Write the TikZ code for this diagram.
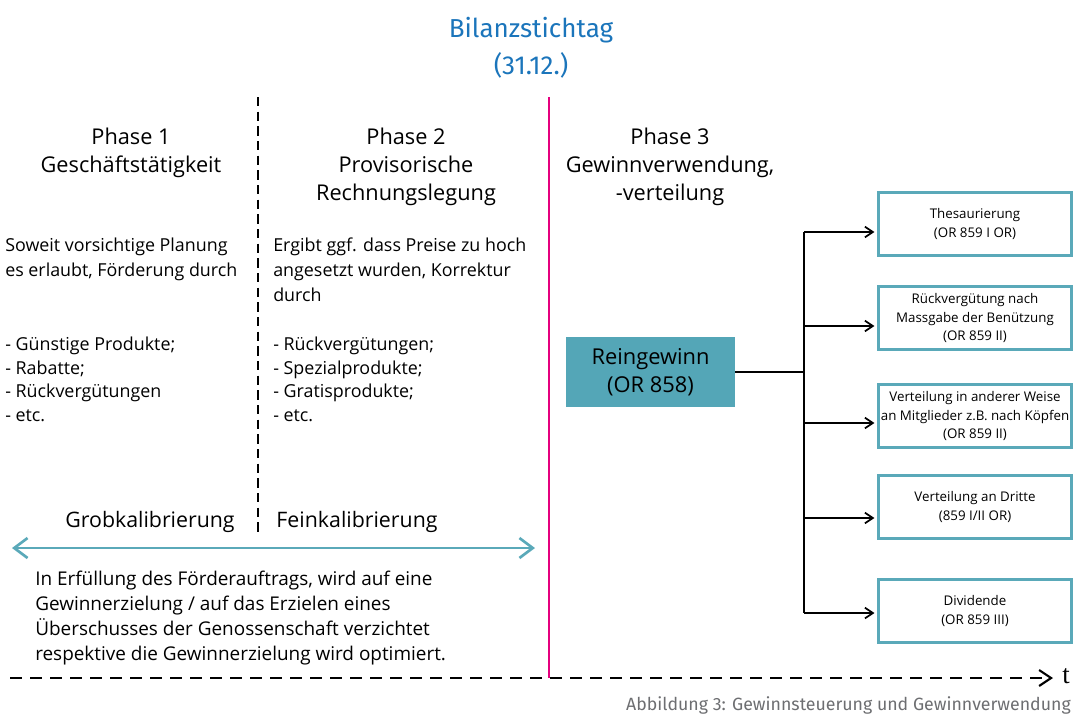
\documentclass[tikz,border=0pt]{standalone}
\usepackage{fontspec}
\setmainfont{Open Sans}
\newfontfamily\headfont{Fira Sans}
\newfontfamily\serifT{Liberation Serif}
\usetikzlibrary{arrows.meta}
\definecolor{titleblue}{HTML}{1B75BB}
\definecolor{magline}{HTML}{E5007E}
\definecolor{tealc}{HTML}{5AA9B9}
\definecolor{tealfill}{HTML}{54A6B7}
\definecolor{capgray}{HTML}{6D6E71}
\begin{document}
\begin{tikzpicture}[x=0.75pt,y=-0.75pt,
  phase/.style={anchor=north, inner sep=0pt, align=center, font=\fontsize{16.3}{21}\selectfont},
  body/.style={anchor=north west, inner sep=0pt, align=left, font=\fontsize{13.4}{18.75}\selectfont},
  blist/.style={anchor=north west, inner sep=0pt, align=left, font=\fontsize{13.4}{17.6}\selectfont},
  foot/.style={anchor=north west, inner sep=0pt, align=left, font=\fontsize{14.2}{18.75}\selectfont},
  calib/.style={anchor=center, inner sep=0pt, font=\fontsize{16}{18}\selectfont},
  resbox/.style={draw=tealc, line width=1.8pt, minimum width=145pt, minimum height=47.5pt,
    inner sep=0.5pt, align=center, font=\fontsize{10}{14}\selectfont},
  branch/.style={line width=1.5pt, -{Straight Barb[length=6pt,width=8pt,line width=1.3pt]}},
]
\path[use as bounding box] (0,0) rectangle (1077,715);

% title
\node[font=\headfont\fontsize{19.5}{27.75}\selectfont, text=titleblue, align=center, anchor=north, inner sep=0pt]
  (title) at (531,17) {Bilanzstichtag\\(31.12.)};

% separators
\draw[magline, line width=2pt] (549,97) coordinate (mtop) -- (549,678) coordinate (mbot);
\draw[black, line width=1.6pt, dash pattern=on 7pt off 4pt] (258,97) coordinate (dtop) -- (258,532) coordinate (dbot);

% phase headers
\node[phase] (p1) at (131,128) {Phase 1\\Geschäftstätigkeit};
\node[phase] (p2) at (406,128) {Phase 2\\Provisorische\\Rechnungslegung};
\node[phase] (p3) at (670,128) {Phase 3\\Gewinnverwendung,\\-verteilung};

% phase texts
\node[body] (t1) at (5,238) {Soweit vorsichtige Planung\\es erlaubt, Förderung durch};
\node[blist] (l1) at (5,337) {- Günstige Produkte;\\- Rabatte;\\- Rückvergütungen\\- etc.};
\node[body] (t2) at (273,238) {Ergibt ggf. dass Preise zu hoch\\angesetzt wurden, Korrektur\\durch};
\node[blist] (l2) at (273,337) {- Rückvergütungen;\\- Spezialprodukte;\\- Gratisprodukte;\\- etc.};

% calibration
\node[calib] (grob) at (150,522) {Grobkalibrierung};
\node[calib] (fein) at (357,522) {Feinkalibrierung};
\coordinate (aL) at (12,548);
\coordinate (aR) at (535,548);
\draw[tealc, line width=2pt, {Straight Barb[length=10pt,width=15pt,line width=2pt]}-{Straight Barb[length=10pt,width=15pt,line width=2pt]}] (aL) -- (aR);

\node[foot] (bt) at (35,571) {In Erfüllung des Förderauftrags, wird auf eine\\Gewinnerzielung / auf das Erzielen eines\\Überschusses der Genossenschaft verzichtet\\respektive die Gewinnerzielung wird optimiert.};

% time axis
\coordinate (tL) at (10,678);
\coordinate (tR) at (1053,678);
\draw[line width=1.6pt, dash pattern=on 9pt off 6pt, -{Straight Barb[length=9pt,width=12pt,line width=1.6pt]}] (tL) -- (tR);
\node[font=\serifT\fontsize{20}{20}\selectfont, anchor=west, inner sep=0pt] (tlab) at (1062,676) {t};

% caption
\node[font=\headfont\fontsize{13.3}{14}\selectfont, text=capgray, anchor=east, inner sep=0pt] (cap) at (1071,705) {Abbildung 3: Gewinnsteuerung und Gewinnverwendung};

% net profit and its uses
\node[fill=tealfill, minimum width=126.75pt, minimum height=52.5pt, align=center, inner sep=0pt,
  font=\fontsize{16.4}{21}\selectfont] (rg) at (650.5,372) {Reingewinn\\(OR 858)};

\node[resbox] (b1) at (975,224) {Thesaurierung\\(OR 859 I OR)};
\node[resbox] (b2) at (975,318) {Rückvergütung nach\\Massgabe der Benützung\\(OR 859 II)};
\node[resbox] (b3) at (975,416) {Verteilung in anderer Weise\\an Mitglieder z.B. nach Köpfen\\(OR 859 II)};
\node[resbox] (b4) at (975,507) {Verteilung an Dritte\\(859 I/II OR)};
\node[resbox] (b5) at (975,611) {Dividende\\(OR 859 III)};

\coordinate (j1) at (804,232);
\coordinate (j2) at (804,326);
\coordinate (j3) at (804,423);
\coordinate (j4) at (804,518);
\coordinate (j5) at (804,613);
\draw[line width=1.5pt] (rg.east) -- (rg.east -| j1);
\draw[line width=1.5pt] (j1) -- (j5);
\foreach \j/\b in {j1/b1,j2/b2,j3/b3,j4/b4,j5/b5}
  \draw[branch] (\j) -- ([xshift=-2pt]\j -| \b.west);
\end{tikzpicture}
\end{document}
